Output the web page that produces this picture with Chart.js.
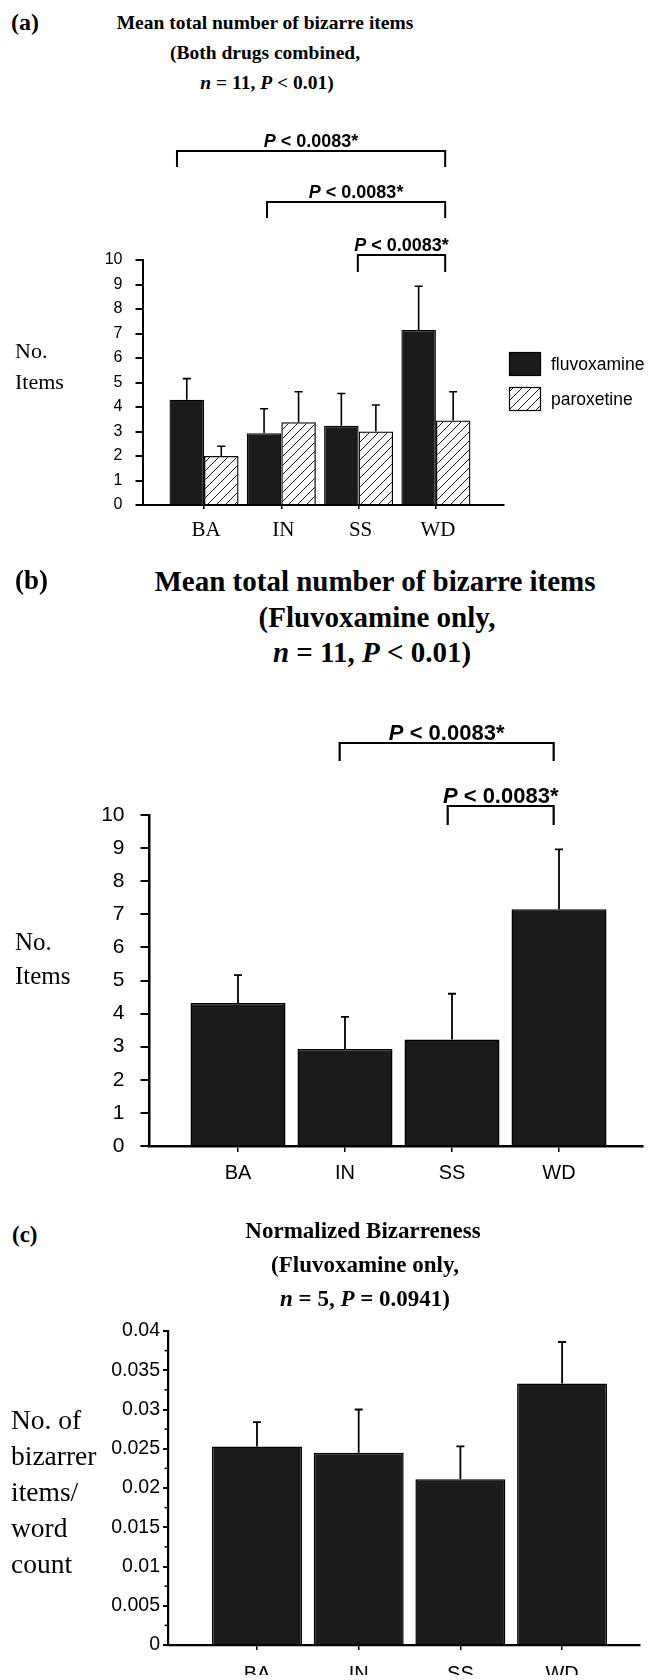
<!DOCTYPE html>
<html>
<head>
<meta charset="utf-8">
<script src="https://cdn.jsdelivr.net/npm/chart.js@4.4.0/dist/chart.umd.min.js"></script>
<style>
  body { margin: 0; background: #fff; width: 659px; height: 1680px; position: relative; overflow: hidden; }
  canvas { position: absolute; left: 0; }
  .txt { position: absolute; white-space: nowrap; color: #000; z-index: 2; }
</style>
</head>
<body>
<canvas id="chartA" width="659" height="450" style="top:100px"></canvas>
<canvas id="chartB" width="659" height="520" style="top:680px"></canvas>
<canvas id="chartC" width="659" height="370" style="top:1310px"></canvas>
<script>
// Data
const categories = ['BA', 'IN', 'SS', 'WD'];
const seriesA = ['fluvoxamine', 'paroxetine'];

// (a) both drugs combined
const fluvoxA = [4.3, 2.93, 3.23, 7.14];
const fluvoxAErr = [5.16, 3.93, 4.55, 8.93];   // top of error bar
const paroxA = [2.0, 3.38, 3.0, 3.45];
const paroxAErr = [2.4, 4.62, 4.08, 4.62];

// (b) fluvoxamine only
const fluvoxB = [4.32, 2.93, 3.22, 7.15];
const fluvoxBErr = [5.16, 3.9, 4.6, 8.96];

// (c) normalized bizarreness
const normC = [0.0253, 0.0245, 0.0211, 0.0333];
const normCErr = [0.0284, 0.03, 0.0253, 0.0386];

const yTicksAB = [0, 1, 2, 3, 4, 5, 6, 7, 8, 9, 10];
const yTicksC = [0, 0.005, 0.01, 0.015, 0.02, 0.025, 0.03, 0.035, 0.04];
const yLabelsC = ['0', '0.005', '0.01', '0.015', '0.02', '0.025', '0.03', '0.035', '0.04'];

const pairsA = [['BA', 'WD'], ['IN', 'WD'], ['SS', 'WD']];
const pairsB = [['IN', 'WD'], ['SS', 'WD']];
const pairLabel = 'P < 0.0083*';

const SANS = '"Liberation Sans", Arial, sans-serif';
const SERIF = '"Liberation Serif", "Times New Roman", serif';
const FILL = '#1b1b1b';

// Hatch pattern for paroxetine
function makeHatch() {
    const c = document.createElement('canvas');
    c.width = c.height = 9;
    const g = c.getContext('2d');
    g.strokeStyle = '#000';
    g.lineWidth = 0.9;
    g.beginPath();
    g.moveTo(0, 9); g.lineTo(9, 0);
    g.moveTo(-4.5, 4.5); g.lineTo(4.5, -4.5);
    g.moveTo(4.5, 13.5); g.lineTo(13.5, 4.5);
    g.stroke();
    return document.createElement('canvas').getContext('2d').createPattern(c, 'repeat');
}
const HATCH = makeHatch();

// HTML text (titles, axis titles)
function addText(html, x, base, size, o = {}) {
    const d = document.createElement('div');
    d.className = 'txt';
    d.innerHTML = html;
    d.style.font = `${o.bold ? 'bold ' : ''}${size}px ${SERIF}`;
    d.style.lineHeight = size + 'px';
    d.style.top = (base - 0.8375 * size) + 'px';
    if (o.center) {
        d.style.left = (x - 300) + 'px';
        d.style.width = '600px';
        d.style.textAlign = 'center';
    } else {
        d.style.left = x + 'px';
    }
    document.body.appendChild(d);
}

// Titles
addText('(a)', 11, 30, 24, { bold: true });
addText('Mean total number of bizarre items', 265, 29, 19.5, { bold: true, center: true });
addText('(Both drugs combined,', 265, 59, 19.5, { bold: true, center: true });
addText('<i>n</i> = 11, <i>P</i> &lt; 0.01)', 267, 89, 19.5, { bold: true, center: true });
addText('No.', 15, 358, 22);
addText('Items', 15, 389, 22);

addText('(b)', 15, 590, 27, { bold: true });
addText('Mean total number of bizarre items', 375, 591, 29, { bold: true, center: true });
addText('(Fluvoxamine only,', 377, 627, 29, { bold: true, center: true });
addText('<i>n</i> = 11, <i>P</i> &lt; 0.01)', 372, 662, 29, { bold: true, center: true });
addText('No.', 15, 950, 25);
addText('Items', 15, 984, 25);

addText('(c)', 12, 1242, 23, { bold: true });
addText('Normalized Bizarreness', 363, 1238, 23, { bold: true, center: true });
addText('(Fluvoxamine only,', 365, 1272, 23, { bold: true, center: true });
addText('<i>n</i> = 5, <i>P</i> = 0.0941)', 365, 1306, 23, { bold: true, center: true });
['No. of', 'bizarrer', 'items/', 'word', 'count'].forEach((t, i) => addText(t, 11, 1429 + i * 36, 27.5));

// Annotation plugin: error bars, brackets, legend, minor ticks
function annotations(p) {
    return {
        id: 'annot',
        afterDatasetsDraw(chart) {
            const ctx = chart.ctx;
            const xs = chart.scales.x, ys = chart.scales.y;
            ctx.save();
            ctx.strokeStyle = '#000';
            ctx.lineWidth = p.errWidth;
            chart.data.datasets.forEach((ds, di) => {
                chart.getDatasetMeta(di).data.forEach((bar, i) => {
                    const top = ys.getPixelForValue(ds.err[i]);
                    ctx.beginPath();
                    ctx.moveTo(bar.x, bar.y);
                    ctx.lineTo(bar.x, top);
                    ctx.moveTo(bar.x - p.cap, top);
                    ctx.lineTo(bar.x + p.cap, top);
                    ctx.stroke();
                });
            });

            // significance brackets
            (p.brackets || []).forEach(b => {
                const x0 = xs.getPixelForValue(categories.indexOf(b.pair[0]) + b.dx[0]);
                const x1 = xs.getPixelForValue(categories.indexOf(b.pair[1]) + b.dx[1]);
                const y = b.y - p.top;
                ctx.lineWidth = p.bracketWidth;
                ctx.beginPath();
                ctx.moveTo(x0, y + b.leg);
                ctx.lineTo(x0, y);
                ctx.lineTo(x1, y);
                ctx.lineTo(x1, y + b.leg);
                ctx.stroke();
                const head = pairLabel.slice(0, 1), rest = pairLabel.slice(1);
                ctx.font = `italic bold ${p.bracketFont}px ${SANS}`;
                const w1 = ctx.measureText(head).width;
                ctx.font = `bold ${p.bracketFont}px ${SANS}`;
                const w2 = ctx.measureText(rest).width;
                const tx = (x0 + x1) / 2 - (w1 + w2) / 2;
                ctx.fillStyle = '#000';
                ctx.textBaseline = 'alphabetic';
                ctx.textAlign = 'left';
                ctx.font = `italic bold ${p.bracketFont}px ${SANS}`;
                ctx.fillText(head, tx, y - p.bracketGap);
                ctx.font = `bold ${p.bracketFont}px ${SANS}`;
                ctx.fillText(rest, tx + w1, y - p.bracketGap);
            });

            // minor y ticks
            if (p.minorTicks) {
                ctx.lineWidth = 1.5;
                for (let v = p.minorTicks; v < p.yMax; v += p.minorTicks * 2) {
                    const y = ys.getPixelForValue(v);
                    ctx.beginPath();
                    ctx.moveTo(chart.chartArea.left - 3.5, y);
                    ctx.lineTo(chart.chartArea.left, y);
                    ctx.stroke();
                }
            }

            // legend
            if (p.legend) {
                const L = p.legend;
                p.series.forEach((s, i) => {
                    const y = L.y + i * L.gap;
                    ctx.fillStyle = s.fill;
                    ctx.fillRect(L.x, y, L.w, L.h);
                    ctx.lineWidth = 1.2;
                    ctx.strokeRect(L.x + 0.5, y + 0.5, L.w - 1, L.h - 1);
                    ctx.fillStyle = '#000';
                    ctx.font = `${L.font}px ${SANS}`;
                    ctx.textBaseline = 'middle';
                    ctx.fillText(s.label, L.x + L.w + 10, y + L.h / 2 + 1);
                });
            }
            ctx.restore();
        }
    };
}

function buildChart(id, p) {
    return new Chart(document.getElementById(id), {
        type: 'bar',
        data: {
            datasets: p.series.map(s => ({
                label: s.label,
                data: s.values.map((v, i) => ({ x: i, y: v })),
                err: s.err,
                backgroundColor: s.fill,
                borderColor: '#000',
                borderWidth: p.barBorder,
                borderSkipped: 'bottom',
                barPercentage: 1,
                categoryPercentage: p.groupWidth
            }))
        },
        options: {
            responsive: false,
            animation: false,
            events: [],
            layout: { padding: p.padding },
            plugins: { legend: { display: false }, tooltip: { enabled: false } },
            scales: {
                x: {
                    type: 'linear',
                    offset: false,
                    min: p.xRange[0],
                    max: p.xRange[1],
                    afterBuildTicks: s => { s.ticks = categories.map((c, i) => ({ value: i })); },
                    afterFit: s => { s.height = p.xAxisHeight; },
                    ticks: {
                        autoSkip: false, maxRotation: 0,
                        font: p.xFont, color: '#000',
                        padding: p.xPad, labelOffset: p.xLabelOffset || 0,
                        callback: v => categories[v]
                    },
                    grid: { offset: false, drawOnChartArea: false, tickLength: p.xTick, color: '#000', lineWidth: 1.5 },
                    border: { color: '#000', width: p.axisWidth }
                },
                y: {
                    min: 0,
                    max: p.yMax,
                    afterBuildTicks: s => { s.ticks = p.yTicks.map(v => ({ value: v })); },
                    afterFit: s => { s.width = p.yAxisWidth; },
                    ticks: {
                        font: p.yFont, color: '#000', padding: p.yPad,
                        callback: (v, i) => p.yLabels[i]
                    },
                    grid: { drawOnChartArea: false, tickLength: p.yTick, color: '#000', lineWidth: 2 },
                    border: { color: '#000', width: p.axisWidth }
                }
            }
        },
        plugins: [annotations(p)]
    });
}

// (a)
buildChart('chartA', {
    top: 100,
    series: [
        { label: seriesA[0], values: fluvoxA, err: fluvoxAErr, fill: FILL },
        { label: seriesA[1], values: paroxA, err: paroxAErr, fill: HATCH }
    ],
    padding: { left: 82.5, right: 155, top: 160, bottom: 3 },
    xRange: [-0.796, 3.881],
    groupWidth: 0.893,
    barBorder: 1.3,
    axisWidth: 2,
    xAxisHeight: 42, xTick: 4, xPad: 9, xLabelOffset: 2,
    xFont: { family: SERIF, size: 21 },
    yMax: 10, yTicks: yTicksAB, yLabels: yTicksAB.map(String),
    yAxisWidth: 60, yTick: 7, yPad: 13,
    yFont: { family: SANS, size: 16 },
    errWidth: 1.6, cap: 4,
    bracketWidth: 2, bracketFont: 18, bracketGap: 4,
    brackets: [
        { pair: pairsA[0], dx: [-0.35, 0.12], y: 151, leg: 16 },
        { pair: pairsA[1], dx: [-0.185, 0.12], y: 202, leg: 16 },
        { pair: pairsA[2], dx: [-0.01, 0.12], y: 255, leg: 17 }
    ],
    legend: { x: 509, y: 252, w: 32, h: 24, gap: 35, font: 17.5 }
});

// (b)
buildChart('chartB', {
    top: 680,
    series: [{ label: seriesA[0], values: fluvoxB, err: fluvoxBErr, fill: FILL }],
    padding: { left: 79.5, right: 16, top: 135, bottom: 9 },
    xRange: [-0.827, 3.785],
    groupWidth: 0.888,
    barBorder: 1.5,
    axisWidth: 2.5,
    xAxisHeight: 45, xTick: 6, xPad: 9.5,
    xFont: { family: SANS, size: 20 },
    yMax: 10, yTicks: yTicksAB, yLabels: yTicksAB.map(String),
    yAxisWidth: 70, yTick: 9, yPad: 16,
    yFont: { family: SANS, size: 21 },
    errWidth: 1.8, cap: 4,
    bracketWidth: 2.2, bracketFont: 22, bracketGap: 3,
    brackets: [
        { pair: pairsB[0], dx: [-0.05, -0.05], y: 743, leg: 18 },
        { pair: pairsB[1], dx: [-0.04, -0.05], y: 806, leg: 19 }
    ]
});

// (c)
buildChart('chartC', {
    top: 1310,
    series: [{ label: seriesA[0], values: normC, err: normCErr, fill: FILL }],
    padding: { left: 98, right: 19, top: 21, bottom: 5 },
    xRange: [-0.875, 3.766],
    groupWidth: 0.885,
    barBorder: 1.5,
    axisWidth: 2.2,
    xAxisHeight: 30, xTick: 5, xPad: 12,
    xFont: { family: SANS, size: 20 },
    yMax: 0.04, yTicks: yTicksC, yLabels: yLabelsC,
    yAxisWidth: 70, yTick: 5, yPad: 3,
    yFont: { family: SANS, size: 19.5 },
    errWidth: 1.8, cap: 4,
    minorTicks: 0.0025
});
</script>
</body>
</html>
